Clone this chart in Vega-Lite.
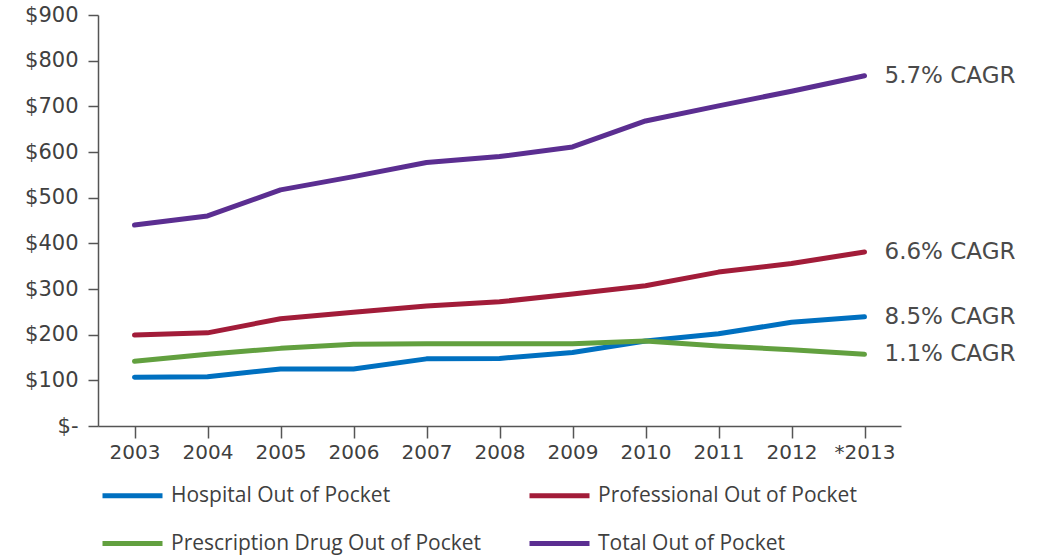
{
  "$schema": "https://vega.github.io/schema/vega-lite/v6.json",
  "width": 803,
  "height": 411,
  "autosize": {"type": "none"},
  "padding": {"left": 98, "top": 15, "right": 138, "bottom": 131},
  "background": "white",
  "datasets": {
    "rows": [
      {"year": "2003", "series": "Hospital Out of Pocket", "value": 107},
      {"year": "2004", "series": "Hospital Out of Pocket", "value": 108},
      {"year": "2005", "series": "Hospital Out of Pocket", "value": 125},
      {"year": "2006", "series": "Hospital Out of Pocket", "value": 125},
      {"year": "2007", "series": "Hospital Out of Pocket", "value": 147},
      {"year": "2008", "series": "Hospital Out of Pocket", "value": 148},
      {"year": "2009", "series": "Hospital Out of Pocket", "value": 161},
      {"year": "2010", "series": "Hospital Out of Pocket", "value": 186},
      {"year": "2011", "series": "Hospital Out of Pocket", "value": 202},
      {"year": "2012", "series": "Hospital Out of Pocket", "value": 227},
      {"year": "*2013", "series": "Hospital Out of Pocket", "value": 239},
      {"year": "2003", "series": "Professional Out of Pocket", "value": 199},
      {"year": "2004", "series": "Professional Out of Pocket", "value": 204},
      {"year": "2005", "series": "Professional Out of Pocket", "value": 235},
      {"year": "2006", "series": "Professional Out of Pocket", "value": 249},
      {"year": "2007", "series": "Professional Out of Pocket", "value": 263},
      {"year": "2008", "series": "Professional Out of Pocket", "value": 272},
      {"year": "2009", "series": "Professional Out of Pocket", "value": 289},
      {"year": "2010", "series": "Professional Out of Pocket", "value": 307},
      {"year": "2011", "series": "Professional Out of Pocket", "value": 337},
      {"year": "2012", "series": "Professional Out of Pocket", "value": 356},
      {"year": "*2013", "series": "Professional Out of Pocket", "value": 381},
      {"year": "2003", "series": "Prescription Drug Out of Pocket", "value": 142},
      {"year": "2004", "series": "Prescription Drug Out of Pocket", "value": 157},
      {"year": "2005", "series": "Prescription Drug Out of Pocket", "value": 170},
      {"year": "2006", "series": "Prescription Drug Out of Pocket", "value": 179},
      {"year": "2007", "series": "Prescription Drug Out of Pocket", "value": 180},
      {"year": "2008", "series": "Prescription Drug Out of Pocket", "value": 180},
      {"year": "2009", "series": "Prescription Drug Out of Pocket", "value": 180},
      {"year": "2010", "series": "Prescription Drug Out of Pocket", "value": 186},
      {"year": "2011", "series": "Prescription Drug Out of Pocket", "value": 175},
      {"year": "2012", "series": "Prescription Drug Out of Pocket", "value": 167},
      {"year": "*2013", "series": "Prescription Drug Out of Pocket", "value": 157},
      {"year": "2003", "series": "Total Out of Pocket", "value": 440},
      {"year": "2004", "series": "Total Out of Pocket", "value": 460},
      {"year": "2005", "series": "Total Out of Pocket", "value": 517},
      {"year": "2006", "series": "Total Out of Pocket", "value": 546},
      {"year": "2007", "series": "Total Out of Pocket", "value": 577},
      {"year": "2008", "series": "Total Out of Pocket", "value": 590},
      {"year": "2009", "series": "Total Out of Pocket", "value": 611},
      {"year": "2010", "series": "Total Out of Pocket", "value": 668},
      {"year": "2011", "series": "Total Out of Pocket", "value": 701},
      {"year": "2012", "series": "Total Out of Pocket", "value": 733},
      {"year": "*2013", "series": "Total Out of Pocket", "value": 767}
    ],
    "labels": [
      {"series": "Hospital Out of Pocket", "cagr": "8.5% CAGR"},
      {"series": "Professional Out of Pocket", "cagr": "6.6% CAGR"},
      {"series": "Prescription Drug Out of Pocket", "cagr": "1.1% CAGR"},
      {"series": "Total Out of Pocket", "cagr": "5.7% CAGR"}
    ]
  },
  "data": {"name": "rows"},
  "encoding": {
    "x": {
      "field": "year",
      "type": "ordinal",
      "sort": ["2003", "2004", "2005", "2006", "2007", "2008", "2009", "2010", "2011", "2012", "*2013"],
      "scale": {"paddingInner": 0, "paddingOuter": 0},
      "axis": {
        "title": null,
        "bandPosition": 0,
        "labelAngle": 0,
        "domainColor": "#555555",
        "domainWidth": 1.5,
        "tickColor": "#555555",
        "tickWidth": 1.5,
        "tickSize": 12,
        "labelPadding": 4,
        "labelFont": "DejaVu Sans",
        "labelFontSize": 20,
        "labelColor": "#404040",
        "labelBaseline": "top"
      }
    },
    "y": {
      "field": "value",
      "type": "quantitative",
      "scale": {"domain": [0, 900], "nice": false},
      "axis": {
        "title": null,
        "values": [0, 100, 200, 300, 400, 500, 600, 700, 800, 900],
        "labelExpr": "datum.value == 0 ? '$-' : '$' + datum.value",
        "grid": false,
        "domainColor": "#555555",
        "domainWidth": 1.5,
        "tickColor": "#555555",
        "tickWidth": 1.5,
        "tickSize": 10,
        "labelPadding": 10,
        "labelFont": "DejaVu Sans",
        "labelFontSize": 21,
        "labelColor": "#404040"
      }
    }
  },
  "layer": [
    {
      "mark": {"type": "line", "strokeWidth": 5, "strokeCap": "round", "strokeJoin": "round"},
      "encoding": {
        "color": {
          "field": "series",
          "type": "nominal",
          "sort": ["Hospital Out of Pocket", "Professional Out of Pocket", "Prescription Drug Out of Pocket", "Total Out of Pocket"],
          "scale": {
            "domain": ["Hospital Out of Pocket", "Professional Out of Pocket", "Prescription Drug Out of Pocket", "Total Out of Pocket"],
            "range": ["#0070c0", "#a21c39", "#62a03f", "#5b2e91"]
          },
          "legend": {
            "title": null,
            "orient": "none",
            "legendX": 2,
            "legendY": 448,
            "direction": "horizontal",
            "columns": 2,
            "symbolType": "stroke",
            "symbolSize": 3600,
            "symbolStrokeWidth": 5,
            "labelFont": "Open Sans",
            "labelFontSize": 21,
            "labelColor": "#3f3f3f",
            "labelOffset": 6,
            "columnPadding": 37,
            "rowPadding": 5,
            "labelLimit": 500,
            "padding": 0
          }
        }
      }
    },
    {
      "transform": [
        {"filter": "datum.year == '*2013'"},
        {"lookup": "series", "from": {"data": {"name": "labels"}, "key": "series", "fields": ["cagr"]}}
      ],
      "mark": {"type": "text", "align": "left", "baseline": "middle", "dx": 20, "font": "DejaVu Sans", "fontSize": 23, "color": "#4a4a4a"},
      "encoding": {"text": {"field": "cagr"}}
    }
  ],
  "config": {"view": {"stroke": null}}
}
